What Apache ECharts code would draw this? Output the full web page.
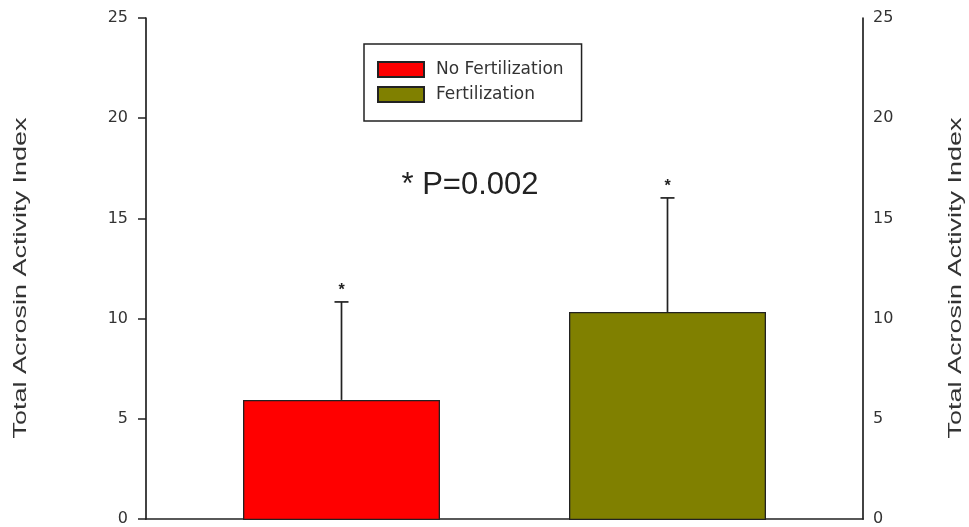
<!DOCTYPE html>
<html>
<head>
<meta charset="utf-8">
<script src="https://cdn.jsdelivr.net/npm/echarts@6/dist/echarts.min.js"></script>
<style>
  html, body { margin: 0; padding: 0; background: #fff; }
  #main { width: 969px; height: 527px; }
</style>
</head>
<body>
<div id="main"></div>
<script>
// values
const categories = ["No Fertilization", "Fertilization"];
const means = [5.98, 10.36];
const upperErr = [10.86, 16.04];
const barColors = ["#ff0000", "#808000"];
const yMin = 0, yMax = 25, yStep = 5;
const pText = "* P=0.002";
const yTitle = "Total Acrosin Activity Index";

var chart = echarts.init(document.getElementById("main"));
var font = "Liberation Sans, Arial, sans-serif";
var wide = "DejaVu Sans, sans-serif";

// one series per group so the legend gets both entries
var barSeries = categories.map(function (name, i) {
  return {
    name: name,
    type: "bar",
    xAxisIndex: 1,
    yAxisIndex: 2,
    stack: "g",
    barWidth: 197,
    data: categories.map(function (c, j) { return j === i ? means[j] : null; }),
    itemStyle: { color: barColors[i], borderColor: "#222", borderWidth: 1.3 },
    z: 2
  };
});

var errData = categories.map(function (c, i) { return [i, means[i], upperErr[i]]; });

// axis titles look letter-spaced in the original, so stretch them along the text
function sideTitle(x, y, rot) {
  return {
    type: "text",
    x: x, y: y,
    rotation: rot,
    scaleX: 1.42,
    style: {
      text: yTitle, font: "19px " + font, fill: "#333",
      align: "center", verticalAlign: "middle"
    }
  };
}

var option = {
  animation: false,
  textStyle: { fontFamily: font },
  title: {
    text: pText,
    left: 465,
    top: 165,
    textAlign: "center",
    textStyle: { fontFamily: font, fontSize: 31, fontWeight: "normal", color: "#222" }
  },
  legend: {
    orient: "vertical",
    left: 364,
    top: 44,
    padding: [17, 18, 18, 13],
    itemGap: 8,
    itemWidth: 46,
    itemHeight: 15,
    borderColor: "#222",
    borderWidth: 1.5,
    icon: "rect",
    data: categories,
    textStyle: { fontFamily: wide, fontSize: 17, color: "#333", padding: [0, 0, 0, 7] }
  },
  graphic: [
    sideTitle(21, 278, Math.PI / 2),
    sideTitle(956, 278, Math.PI / 2)
  ],
  grid: [
    { left: 146, right: 106, top: 18, bottom: 7 },
    { left: 178.5, right: 138.5, top: 18, bottom: 7 }
  ],
  xAxis: [
    {
      type: "value", gridIndex: 0, min: 0, max: 1,
      axisLine: { show: true, onZero: false, lineStyle: { color: "#222", width: 1.7 } },
      axisTick: { show: false }, axisLabel: { show: false }, splitLine: { show: false }
    },
    {
      type: "category", gridIndex: 1, data: categories,
      axisLine: { show: false }, axisTick: { show: false }, axisLabel: { show: false }
    }
  ],
  yAxis: [
    {
      type: "value", gridIndex: 0, position: "left",
      min: yMin, max: yMax, interval: yStep,
      axisLine: { show: true, lineStyle: { color: "#222", width: 1.7 } },
      axisTick: { show: true, length: 8, lineStyle: { color: "#222", width: 1.5 } },
      axisLabel: { fontFamily: wide, fontSize: 16, color: "#333", margin: 18 },
      splitLine: { show: false }
    },
    {
      type: "value", gridIndex: 0, position: "right",
      min: yMin, max: yMax, interval: yStep,
      axisLine: { show: true, lineStyle: { color: "#222", width: 1.7 } },
      axisTick: { show: false },
      axisLabel: { fontFamily: wide, fontSize: 16, color: "#333", margin: 10 },
      splitLine: { show: false }
    },
    {
      type: "value", gridIndex: 1, min: yMin, max: yMax, interval: yStep, show: false
    }
  ],
  series: barSeries.concat([
    {
      type: "custom",
      xAxisIndex: 1,
      yAxisIndex: 2,
      data: errData,
      z: 3,
      renderItem: function (params, api) {
        var base = api.coord([api.value(0), api.value(1)]);
        var top = api.coord([api.value(0), api.value(2)]);
        var style = { stroke: "#222", lineWidth: 1.7 };
        return {
          type: "group",
          children: [
            { type: "line", shape: { x1: base[0], y1: base[1], x2: top[0], y2: top[1] }, style: style },
            { type: "line", shape: { x1: top[0] - 7, y1: top[1], x2: top[0] + 7, y2: top[1] }, style: style },
            {
              type: "text",
              style: {
                text: "*", x: top[0], y: top[1] - 3,
                align: "center", verticalAlign: "bottom",
                font: "bold 16px " + font, fill: "#222"
              }
            }
          ]
        };
      }
    }
  ])
};

chart.setOption(option);
</script>
</body>
</html>
